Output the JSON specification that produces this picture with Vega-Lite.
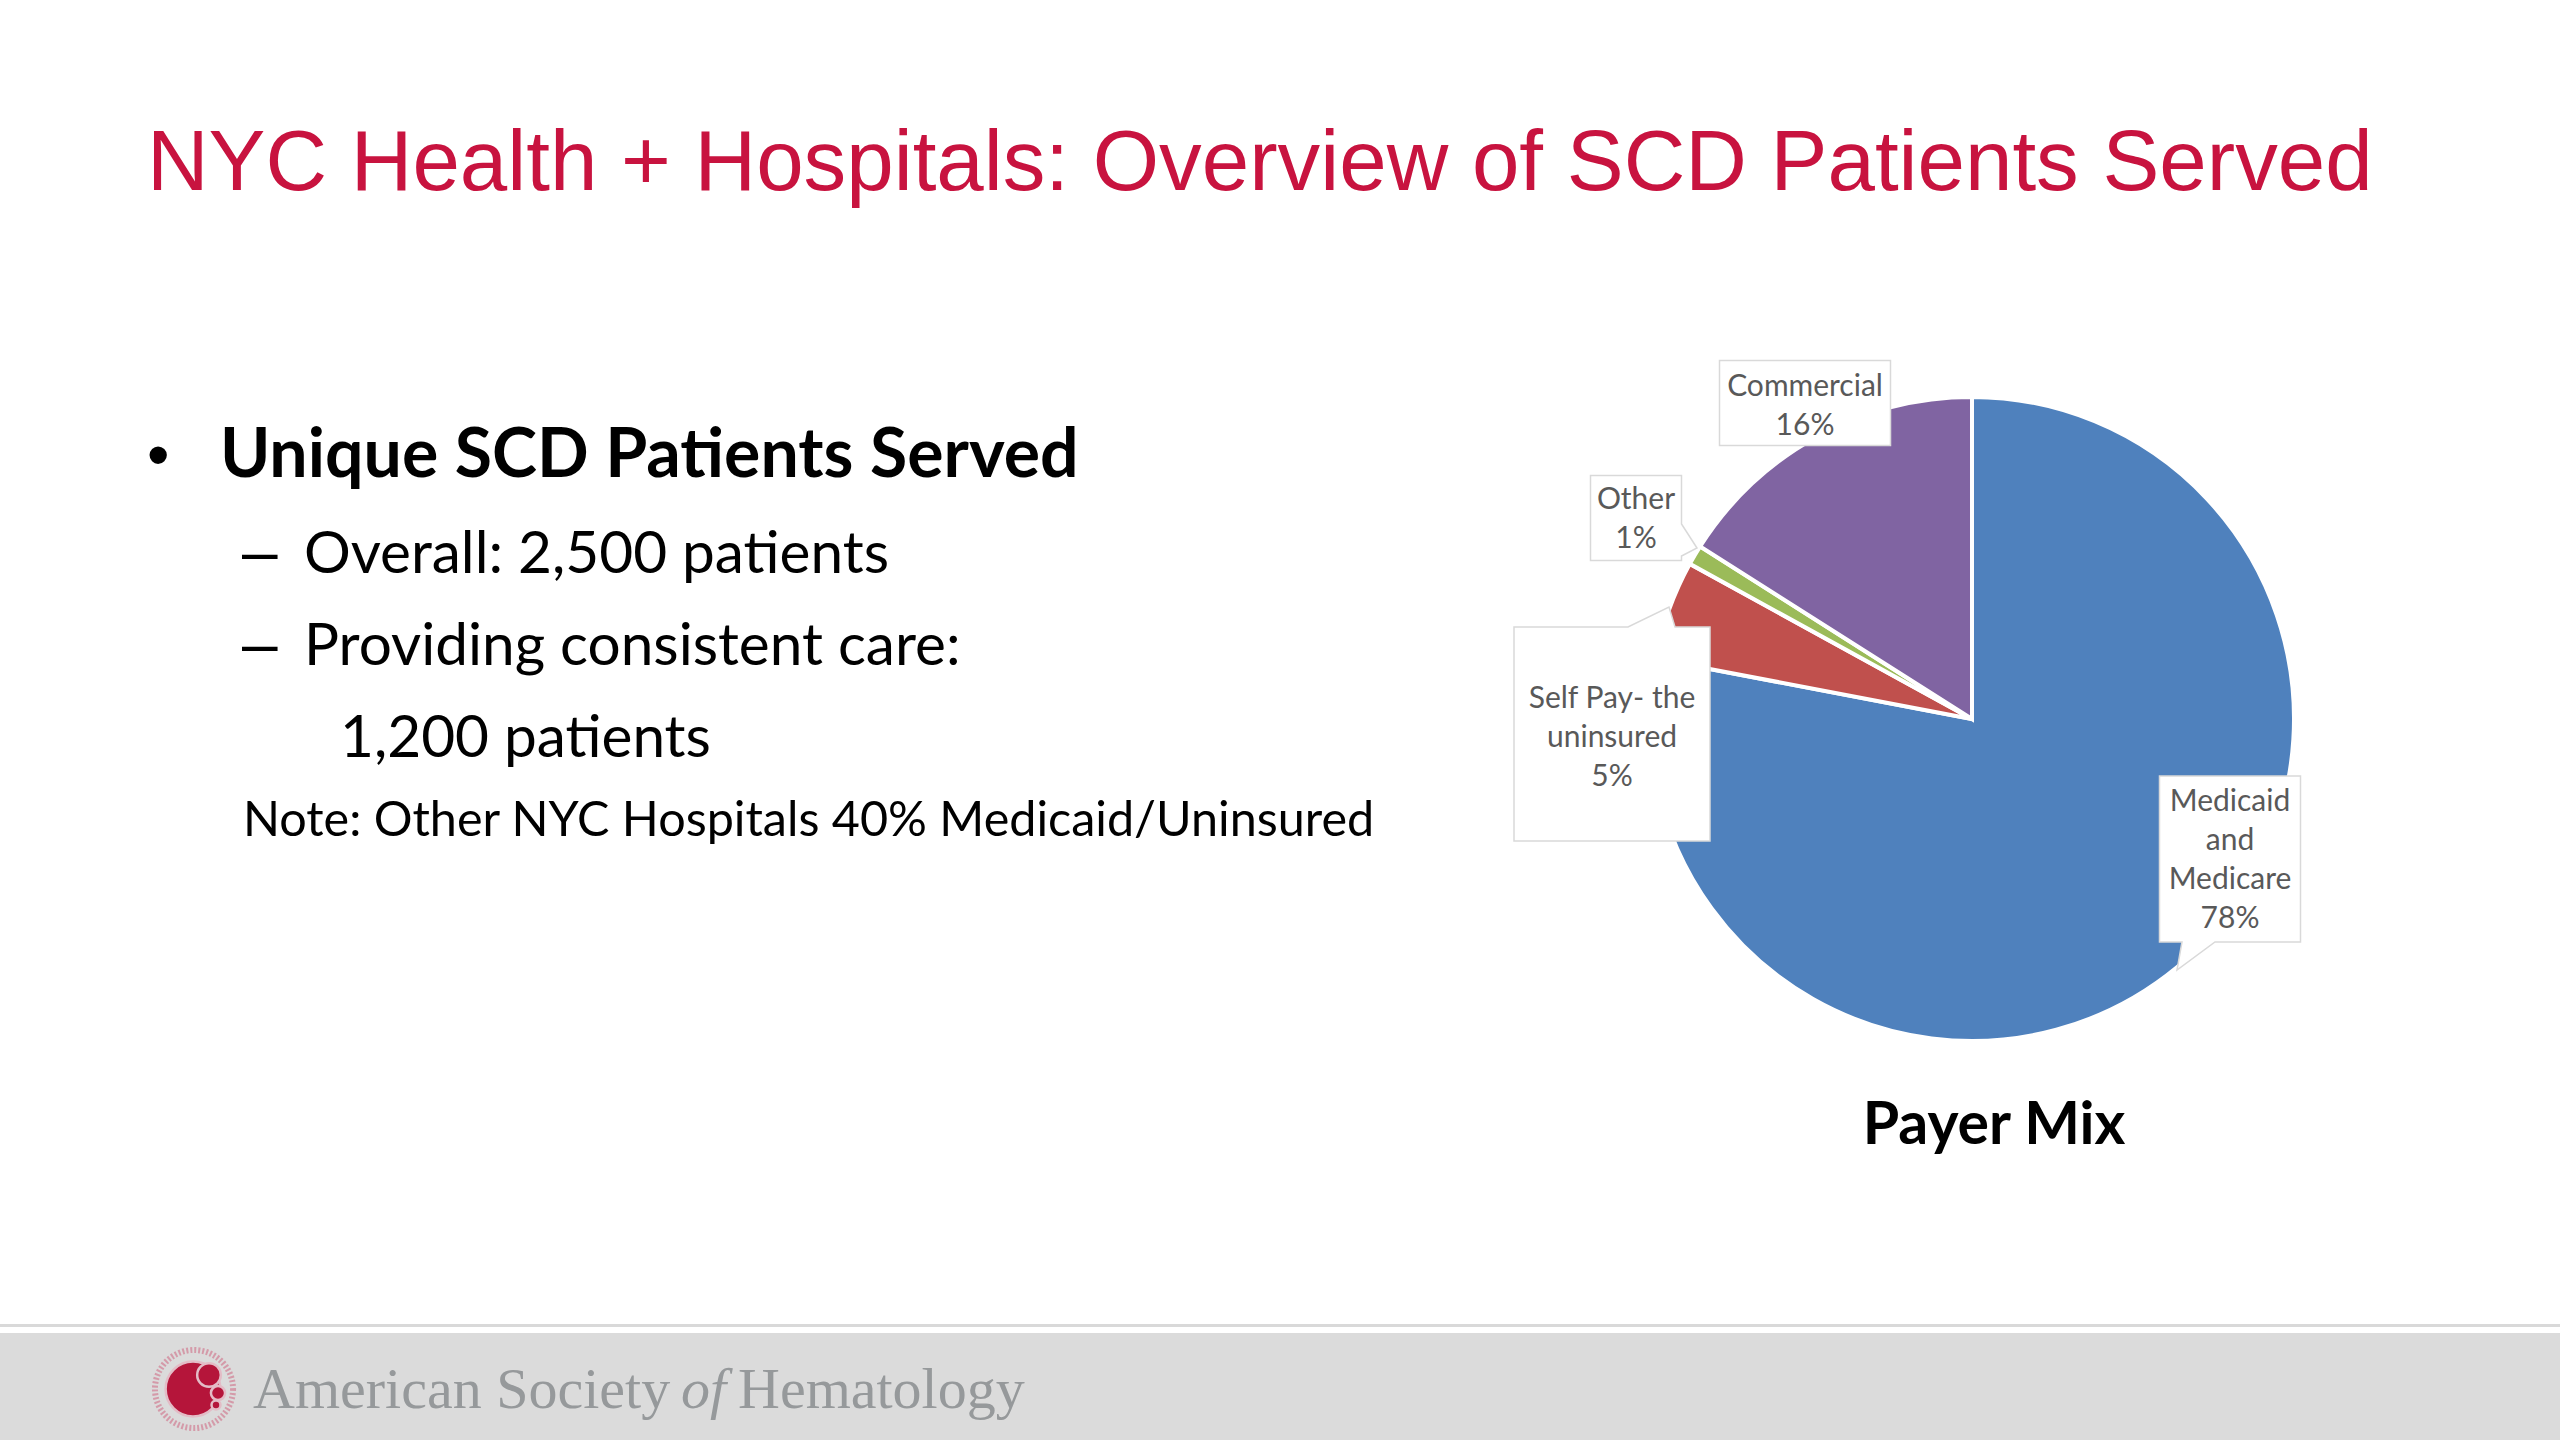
{"$schema":"https://vega.github.io/schema/vega-lite/v6.json","width":2560,"height":1440,"padding":0,"autosize":{"type":"fit","contains":"padding"},"background":"white","config":{"view":{"stroke":null},"legend":{"disable":true}},"datasets":{"payers":[{"chart":"Payer Mix","payer":"Medicaid and Medicare","share":78,"rank":1,"label":"Medicaid\nand\nMedicare\n78%"},{"chart":"Payer Mix","payer":"Self Pay- the uninsured","share":5,"rank":2,"label":"Self Pay- the\nuninsured\n5%"},{"chart":"Payer Mix","payer":"Other","share":1,"rank":3,"label":"Other\n1%"},{"chart":"Payer Mix","payer":"Commercial","share":16,"rank":4,"label":"Commercial\n16%"}],"slide":[{"line":1,"role":"title","text":"NYC Health + Hospitals: Overview of SCD Patients Served"},{"line":2,"role":"bullet","text":"•"},{"line":3,"role":"heading","text":"Unique SCD Patients Served"},{"line":4,"role":"bullet","text":"–"},{"line":5,"role":"body","text":"Overall: 2,500 patients"},{"line":6,"role":"bullet","text":"–"},{"line":7,"role":"body","text":"Providing consistent care:"},{"line":8,"role":"body","text":"1,200 patients"},{"line":9,"role":"note","text":"Note: Other NYC Hospitals 40% Medicaid/Uninsured"},{"line":10,"role":"caption","text":"Payer Mix"},{"line":11,"role":"footer","text":"American Society"},{"line":12,"role":"footerItalic","text":"of"},{"line":13,"role":"footer","text":"Hematology"}],"logo":[{"n":1,"part":"seal"},{"n":2,"part":"large cell"},{"n":3,"part":"lobe one"},{"n":4,"part":"lobe two"},{"n":5,"part":"lobe three"}],"footer":[{"part":"footer rule"},{"part":"footer band"}]},"layer":[{"data":{"name":"footer"},"transform":[{"filter":"datum.part == 'footer band'"}],"mark":{"type":"rect","fill":"#DBDBDB","stroke":null},"encoding":{"y":{"field":"part","type":"nominal","axis":null,"scale":{"type":"band","domain":["footer band"],"range":[1333,1440],"paddingInner":0,"paddingOuter":0}}}},{"data":{"name":"footer"},"transform":[{"filter":"datum.part == 'footer rule'"}],"mark":{"type":"rect","fill":"#D9D9D9","stroke":null},"encoding":{"y":{"field":"part","type":"nominal","axis":null,"scale":{"type":"band","domain":["footer rule"],"range":[1324,1327],"paddingInner":0,"paddingOuter":0}}}},{"data":{"name":"logo"},"encoding":{"x":{"field":"n","type":"quantitative","axis":null,"scale":{"domain":[1,2,3,4,5],"range":[194,193,209,218,216],"zero":false,"nice":false}},"y":{"field":"n","type":"quantitative","axis":null,"scale":{"domain":[1,2,3,4,5],"range":[1389,1389,1375,1393,1405],"zero":false,"nice":false}},"size":{"field":"n","type":"quantitative","legend":null,"scale":{"domain":[1,2,3,4,5],"range":[6100,3000,560,200,80],"zero":false,"nice":false}}},"layer":[{"transform":[{"filter":"datum.n == 1"}],"mark":{"type":"point","shape":"circle","filled":false,"stroke":"#C8103E","strokeOpacity":0.45,"strokeWidth":6,"strokeDash":[2,2]}},{"transform":[{"filter":"datum.n > 1"}],"mark":{"type":"point","shape":"circle","filled":true,"fill":"#B5153A","fillOpacity":1,"stroke":"#E3BCC6","strokeWidth":2.5}}]},{"data":{"name":"payers"},"mark":{"type":"arc","outerRadius":322,"stroke":"white","strokeWidth":4},"encoding":{"x":{"field":"chart","type":"nominal","axis":null,"scale":{"type":"point","domain":["Payer Mix"],"range":[1972,1972]}},"y":{"field":"chart","type":"nominal","axis":null,"scale":{"type":"point","domain":["Payer Mix"],"range":[719,719]}},"theta":{"field":"share","type":"quantitative","stack":true},"order":{"field":"rank","type":"quantitative"},"color":{"field":"payer","type":"nominal","legend":null,"scale":{"domain":["Medicaid and Medicare","Self Pay- the uninsured","Other","Commercial"],"range":["#4F81BD","#C0504D","#9BBB59","#8064A2"]}}}},{"data":{"name":"payers"},"mark":{"type":"point","filled":true,"fill":"white","fillOpacity":1,"stroke":"#D9D9D9","strokeWidth":1.5,"size":4},"encoding":{"x":{"field":"share","type":"quantitative","axis":null,"scale":{"domain":[1,5,16,78],"range":[1636,1612,1805,2230],"zero":false,"nice":false}},"y":{"field":"share","type":"quantitative","axis":null,"scale":{"domain":[1,5,16,78],"range":[518,734,403,859],"zero":false,"nice":false}},"shape":{"field":"payer","type":"nominal","legend":null,"scale":{"domain":["Medicaid and Medicare","Self Pay- the uninsured","Other","Commercial"],"range":["M-70.5,-83H70.5V83H-15L-53,111L-48,83H-70.5Z","M-98,-107H16L57,-127L63,-107H98V107H-98Z","M-45.5,-42.5H45.5V6L61,30L45.5,38V42.5H-45.5Z","M-85.5,-42.5H85.5V42.5H-85.5Z"]}}}},{"data":{"name":"payers"},"mark":{"type":"text","font":"Lato","fontSize":30,"lineHeight":39,"lineBreak":"\n","color":"#595959","align":"center","baseline":"middle"},"encoding":{"x":{"field":"share","type":"quantitative","axis":null,"scale":{"domain":[1,5,16,78],"range":[1636,1612,1805,2230],"zero":false,"nice":false}},"y":{"field":"share","type":"quantitative","axis":null,"scale":{"domain":[1,5,16,78],"range":[500,699,387,802],"zero":false,"nice":false}},"text":{"field":"label","type":"nominal"}}},{"data":{"name":"slide"},"encoding":{"x":{"field":"line","type":"quantitative","axis":null,"scale":{"domain":[1,2,3,4,5,6,7,8,9,10,11,12,13],"range":[147,147,220,242,304,242,304,340,243,1994,253,681,738],"zero":false,"nice":false}},"y":{"field":"line","type":"quantitative","axis":null,"scale":{"domain":[1,2,3,4,5,6,7,8,9,10,11,12,13],"range":[190,477,477,573,573,665,665,757,836,1144,1408,1408,1408],"zero":false,"nice":false}},"text":{"field":"text","type":"nominal"}},"layer":[{"transform":[{"filter":"datum.role == 'title'"}],"mark":{"type":"text","font":"Liberation Sans","fontSize":85.3,"color":"#C8133F","align":"left","baseline":"alphabetic"}},{"transform":[{"filter":"datum.role == 'bullet'"}],"mark":{"type":"text","font":"Liberation Sans","fontSize":64,"color":"#000000","align":"left","baseline":"alphabetic"}},{"transform":[{"filter":"datum.role == 'heading'"}],"mark":{"type":"text","font":"Lato","fontWeight":"bold","fontSize":68,"color":"#000000","align":"left","baseline":"alphabetic"}},{"transform":[{"filter":"datum.role == 'body'"}],"mark":{"type":"text","font":"Lato","fontSize":58.5,"color":"#000000","align":"left","baseline":"alphabetic"}},{"transform":[{"filter":"datum.role == 'note'"}],"mark":{"type":"text","font":"Lato","fontSize":48.5,"color":"#000000","align":"left","baseline":"alphabetic"}},{"transform":[{"filter":"datum.role == 'caption'"}],"mark":{"type":"text","font":"Lato","fontWeight":"bold","fontSize":59,"color":"#000000","align":"center","baseline":"alphabetic"}},{"transform":[{"filter":"datum.role == 'footer'"}],"mark":{"type":"text","font":"Liberation Serif","fontSize":58,"color":"#96999B","align":"left","baseline":"alphabetic"}},{"transform":[{"filter":"datum.role == 'footerItalic'"}],"mark":{"type":"text","font":"Liberation Serif","fontStyle":"italic","fontSize":58,"color":"#96999B","align":"left","baseline":"alphabetic"}}]}],"resolve":{"scale":{"x":"independent","y":"independent","size":"independent","color":"independent","shape":"independent"}}}
